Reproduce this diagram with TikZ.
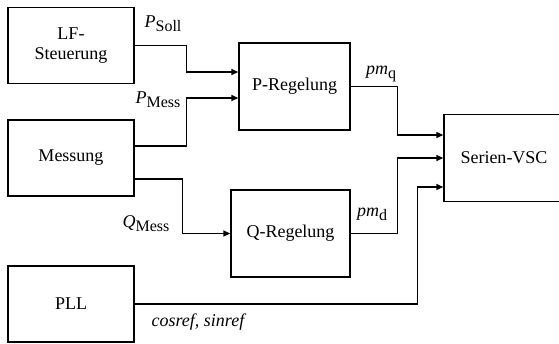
\documentclass[tikz,border=0pt]{standalone}
\usepackage{fontspec}
\setmainfont{Liberation Serif}
\usetikzlibrary{arrows.meta}
\newcommand{\sig}[2]{\textit{#1}\raisebox{-4pt}{\fontsize{16}{16}\selectfont #2}}
\tikzset{
  block/.style={draw,line width=1.4pt,align=center,inner sep=0pt},
  sig/.style={line width=1.4pt,-{Triangle[length=7pt,width=6pt]}},
  lbl/.style={inner sep=0pt}
}
\begin{document}
\begin{tikzpicture}[x=1pt,y=-1pt,font=\fontsize{18}{20}\selectfont]
\useasboundingbox (0,0) rectangle (559,343);
% Bloecke
\node[block,minimum width=126pt,minimum height=76pt] (lf) at (71,45.5) {LF-\\Steuerung};
\node[block,minimum width=126pt,minimum height=76pt] (mess) at (71,158) {Messung};
\node[block,minimum width=126pt,minimum height=76pt] (pll) at (71,304) {PLL};
\node[block,minimum width=111pt,minimum height=87pt] (preg) at (294.5,86.5) {P-Regelung};
\node[block,minimum width=119pt,minimum height=87pt] (qreg) at (290.5,233.5) {Q-Regelung};
\node[block,minimum width=120pt,minimum height=87pt] (vsc) at (504,158) {Serien-VSC};
% Signale
\draw[sig] (lf.east) -- ++(52,0) |- ([yshift=14.5pt]preg.west);
\draw[sig] ([yshift=12pt]mess.east) -- ++(52,0) |- ([yshift=-11.5pt]preg.west);
\draw[sig] ([yshift=-21pt]mess.east) -- ++(48,0) |- (qreg.west);
\draw[sig] (preg.east) -- ++(47,0) |- ([yshift=23pt]vsc.west);
\draw[sig] (qreg.east) -- ++(47,0) |- (vsc.west);
\draw[sig] (pll.east) -- ++(283,0) |- ([yshift=-29pt]vsc.west);
% Beschriftungen
\node[lbl] (psoll) at (163,24) {\sig{P}{Soll}};
\node[lbl] (pmess) at (158,100) {\sig{P}{Mess}};
\node[lbl] (qmess) at (146,224) {\sig{Q}{Mess}};
\node[lbl] (pmq) at (381,74) {\sig{pm}{q}};
\node[lbl] (pmd) at (372,214) {\sig{pm}{d}};
\node[lbl] (ref) at (199,322) {\textit{cosref, sinref}};
\end{tikzpicture}
\end{document}
